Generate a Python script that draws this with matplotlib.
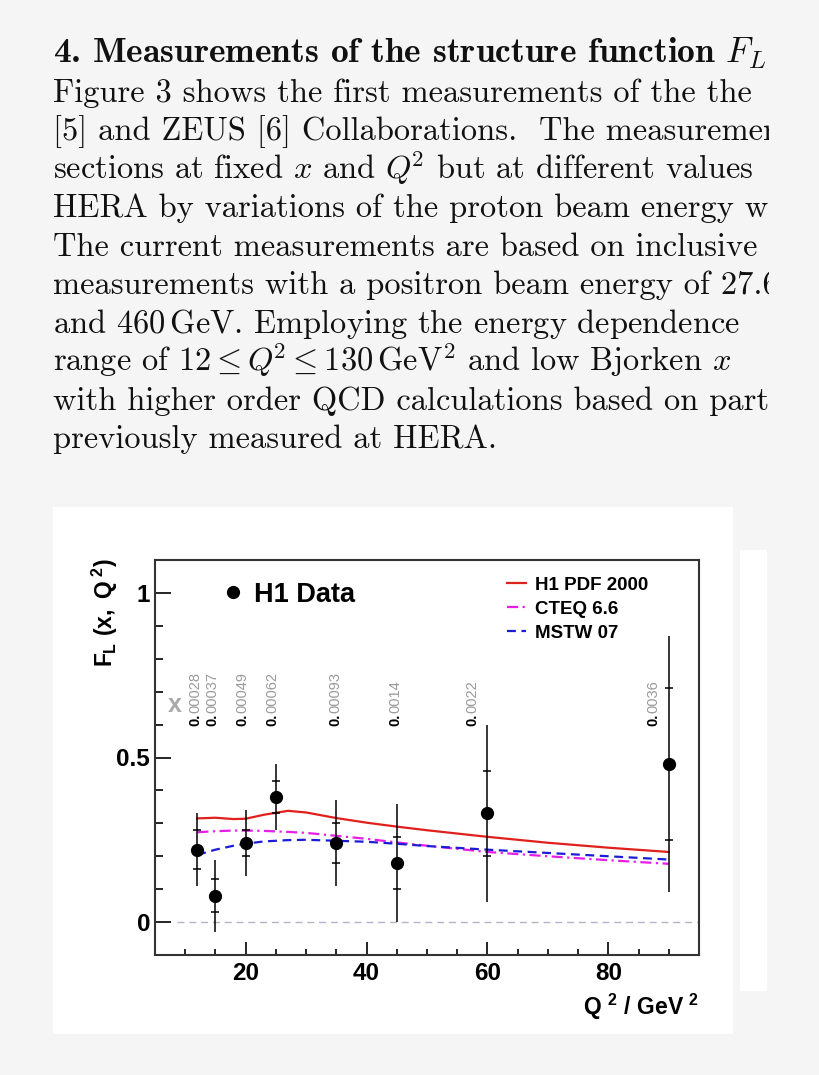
import numpy as np
import matplotlib
matplotlib.use('Agg')
import matplotlib.pyplot as plt
from matplotlib import ticker
from matplotlib.patches import Rectangle
from matplotlib.transforms import Bbox

# H1 F_L measurement
q2 = [12, 15, 20, 25, 35, 45, 60, 90]
fl = [0.22, 0.08, 0.24, 0.38, 0.24, 0.18, 0.33, 0.48]
err_stat = [0.06, 0.05, 0.04, 0.05, 0.06, 0.08, 0.13, 0.23]
err_tot = [0.11, 0.11, 0.10, 0.10, 0.13, 0.18, 0.27, 0.39]
x_values = ['0.00028', '0.00037', '0.00049', '0.00062', '0.00093', '0.0014', '0.0022', '0.0036']

# QCD predictions
q2_curve = [12, 15, 18, 20, 23, 27, 30, 35, 40, 45, 50, 60, 70, 80, 90]
h1pdf = [0.315, 0.317, 0.313, 0.314, 0.326, 0.338, 0.333, 0.316, 0.302, 0.290, 0.279, 0.259, 0.241, 0.226, 0.213]
cteq = [0.273, 0.276, 0.278, 0.278, 0.277, 0.274, 0.271, 0.262, 0.253, 0.242, 0.232, 0.213, 0.200, 0.188, 0.177]
mstw = [0.204, 0.220, 0.232, 0.238, 0.245, 0.249, 0.250, 0.247, 0.244, 0.238, 0.231, 0.220, 0.210, 0.200, 0.190]

heading = r"4. Measurements of the structure function $F_L$"
paragraph = [
    "Figure 3 shows the first measurements of the the",
    "[5] and ZEUS [6] Collaborations.  The measurements",
    r"sections at fixed $x$ and $Q^{\!2}$ but at different values",
    "HERA by variations of the proton beam energy with",
    "The current measurements are based on inclusive",
    "measurements with a positron beam energy of 27.6",
    r"and $460\,\mathrm{GeV}$. Employing the energy dependence",
    r"range of $12 \leq Q^{\!2} \leq 130\,\mathrm{GeV}^2$ and low Bjorken $x$",
    "with higher order QCD calculations based on parton",
    "previously measured at HERA.",
]

# label shifts (in Q2 units) of the x value texts
label_shift = [-0.4, -0.5, -0.5, -0.5, -0.2, -0.2, -2.5, -2.5]

plt.rcParams['font.family'] = 'Liberation Sans'
plt.rcParams['mathtext.fontset'] = 'custom'
plt.rcParams['mathtext.rm'] = 'Liberation Sans:bold'
plt.rcParams['mathtext.it'] = 'Liberation Sans:bold'
plt.rcParams['mathtext.bf'] = 'Liberation Sans:bold'

W, H = 820, 1075
fig = plt.figure(figsize=(W / 100, H / 100), dpi=100, facecolor='#f5f5f5')

# text block
clip = Bbox.from_extents(0, 0, 769, H)
t = fig.text(53 / W, 1 - 63.3 / H, heading, fontsize=25.5, family='cmb10',
             math_fontfamily='cm', color='#111111', va='baseline')
t.set_clip_box(clip)
t.set_clip_on(True)
for i, line in enumerate(paragraph):
    t = fig.text(53 / W, 1 - (63.3 + 38.5 * (i + 1)) / H, line, fontsize=23.4,
                 family='cmr10', math_fontfamily='cm', color='#111111', va='baseline')
    t.set_clip_box(clip)
    t.set_clip_on(True)

# white panels
fig.add_artist(Rectangle((53 / W, 1 - 1034 / H), 680 / W, 527 / H, transform=fig.transFigure,
                         facecolor='white', edgecolor='none', zorder=0))
fig.add_artist(Rectangle((740 / W, 1 - 991 / H), 27 / W, 441 / H, transform=fig.transFigure,
                         facecolor='white', edgecolor='none', zorder=0))

ax = fig.add_axes([155 / W, 1 - 955 / H, 544 / W, 395 / H])
ax.set_facecolor('white')
ax.set_xlim(5, 95)
ax.set_ylim(-0.1, 1.1)

ax.axhline(0, xmin=(8.7 - 5) / 90, color='#b4b4c8', lw=1, dashes=(5, 3.5))

l_h1, = ax.plot(q2_curve, h1pdf, color='#e0201c', lw=1.6, label='H1 PDF 2000')
l_cteq, = ax.plot(q2_curve, cteq, color='#e81ee8', lw=1.6, dashes=(5, 2, 1, 2), label='CTEQ 6.6')
l_mstw, = ax.plot(q2_curve, mstw, color='#1c1cd8', lw=1.6, dashes=(4, 2.5), label='MSTW 07')

q2a = np.array(q2)
fla = np.array(fl)
eb = ax.errorbar(q2a, fla, yerr=err_tot, fmt='o', color='black', ms=8.5, elinewidth=1.1,
                 capsize=0, zorder=5)
ax.plot(np.r_[q2a, q2a], np.r_[fla + err_stat, fla - err_stat], '_', color='black',
        ms=6, mew=1.1, zorder=5)

# x values: black "0." followed by the grey digits
for xq, sh, lab in zip(q2, label_shift, x_values):
    ax.text(xq + sh, 0.595, lab[:2], rotation=90, ha='center', va='bottom',
            color='black', fontsize=10.5, fontweight='bold')
    ax.annotate(lab[2:], (xq + sh, 0.595), xytext=(0, 9.2), textcoords='offset points',
                rotation=90, ha='center', va='bottom', color='#9a9a9a', fontsize=10.5)
ax.text(8.2, 0.66, 'x', color='#aaaaaa', fontsize=18, fontweight='bold',
        ha='center', va='center')

leg1 = ax.legend(handles=[eb[0]], labels=['H1 Data'], loc='center left',
                 bbox_to_anchor=(0.125, 0.912), frameon=False, borderpad=0,
                 borderaxespad=0, handlelength=0.75, handletextpad=0.4,
                 prop={'weight': 'bold', 'size': 19.5})
ax.add_artist(leg1)
ax.legend(handles=[l_h1, l_cteq, l_mstw], loc='upper left', bbox_to_anchor=(0.647, 0.958),
          frameon=False, borderpad=0, borderaxespad=0, handlelength=1.0,
          handletextpad=0.5, labelspacing=0.37, prop={'weight': 'bold', 'size': 13.5})

ax.xaxis.set_major_locator(ticker.MultipleLocator(20))
ax.xaxis.set_minor_locator(ticker.MultipleLocator(5))
ax.yaxis.set_major_locator(ticker.MultipleLocator(0.5))
ax.yaxis.set_minor_locator(ticker.MultipleLocator(0.1))
ax.yaxis.set_major_formatter(ticker.FormatStrFormatter('%g'))
ax.tick_params(axis='both', which='both', direction='in', top=False, right=False,
               width=1.2, colors='black', labelsize=17.5)
ax.tick_params(axis='y', which='major', length=11.5, pad=3.5)
ax.tick_params(axis='y', which='minor', length=6)
ax.tick_params(axis='x', which='major', length=9.5, pad=5)
ax.tick_params(axis='x', which='minor', length=4.5)
for lab in ax.get_xticklabels() + ax.get_yticklabels():
    lab.set_fontweight('bold')
for s in ax.spines.values():
    s.set_linewidth(1.5)
    s.set_color('#333333')

ax.set_ylabel(r'$F_{L}\ (x,\ Q^{\,2})$', fontsize=16.5, loc='top')
ax.yaxis.set_label_coords(-0.064, 1.005)
ax.set_xlabel(r'$Q^{\ 2}\ /\ GeV^{\ 2}$', fontsize=16.5, loc='right')
ax.xaxis.set_label_coords(1.0, -0.092)

fig.savefig('out.png', dpi=100, facecolor=fig.get_facecolor())
